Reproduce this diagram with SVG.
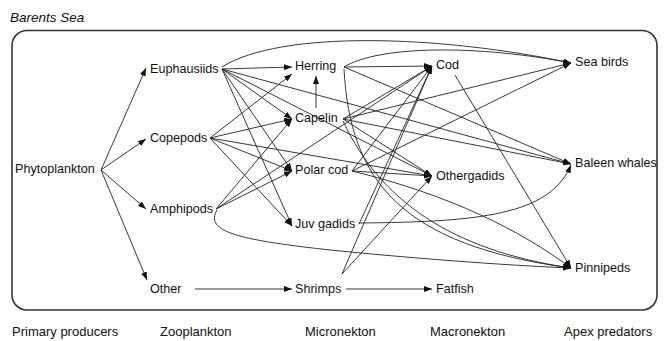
<svg xmlns="http://www.w3.org/2000/svg" width="665" height="341" viewBox="0 0 665 341">
<style>
text{font-family:"Liberation Sans",Arial,Helvetica,sans-serif;font-size:12.6px;fill:#111}
.t{font-size:13.5px;font-style:italic}
.ax{font-size:13px}
#edges path,#edges line{fill:none;stroke:#222;stroke-width:0.9;marker-end:url(#ah)}
</style>
<defs>
<marker id="ah" markerUnits="userSpaceOnUse" markerWidth="9" markerHeight="7" refX="8" refY="3" orient="auto">
<path d="M0,0 L8,3 L0,6 z" fill="#111"/>
</marker>
</defs>
<text class="t" x="10" y="22">Barents Sea</text>
<rect x="12" y="30.5" width="645" height="279.5" rx="15" fill="none" stroke="#333" stroke-width="1.6"/>
<g id="axis">
<text class="ax" x="12" y="336">Primary producers</text>
<text class="ax" x="160" y="336">Zooplankton</text>
<text class="ax" x="305" y="336">Micronekton</text>
<text class="ax" x="430" y="336">Macronekton</text>
<text class="ax" x="564" y="336">Apex predators</text>
</g>
<g id="edges">
<line x1="101" y1="170" x2="146" y2="68"/>
<line x1="101" y1="170" x2="146" y2="139"/>
<line x1="101" y1="170" x2="146" y2="209"/>
<line x1="101" y1="170" x2="147" y2="280"/>
<line x1="222" y1="69" x2="292" y2="67"/>
<line x1="222" y1="69" x2="292" y2="119"/>
<line x1="222" y1="69" x2="292" y2="171"/>
<line x1="222" y1="69" x2="292" y2="226"/>
<line x1="222" y1="69" x2="432" y2="176"/>
<line x1="222" y1="69" x2="571" y2="164"/>
<path d="M222,67 C280,30 440,35 571,63"/>
<line x1="210" y1="138" x2="292" y2="74"/>
<line x1="210" y1="138" x2="292" y2="119"/>
<line x1="210" y1="138" x2="292" y2="171"/>
<line x1="210" y1="138" x2="292" y2="226"/>
<line x1="210" y1="138" x2="432" y2="176"/>
<line x1="216" y1="209" x2="292" y2="119"/>
<line x1="216" y1="209" x2="292" y2="171"/>
<line x1="216" y1="209" x2="432" y2="66"/>
<path d="M217,210 C204,232 240,240 330,250 C430,260 520,266 571,268"/>
<line x1="316" y1="108" x2="316" y2="76"/>
<line x1="344" y1="67" x2="432" y2="66"/>
<path d="M344,67 C380,45 480,45 571,63"/>
<line x1="344" y1="67" x2="571" y2="164"/>
<path d="M344,69 C350,180 400,245 571,268"/>
<line x1="343" y1="119" x2="432" y2="66"/>
<line x1="343" y1="119" x2="571" y2="63"/>
<line x1="343" y1="119" x2="571" y2="164"/>
<line x1="343" y1="119" x2="432" y2="176"/>
<path d="M343,121 C380,200 450,250 571,268"/>
<line x1="352" y1="171" x2="432" y2="66"/>
<line x1="352" y1="171" x2="571" y2="63"/>
<line x1="352" y1="171" x2="432" y2="176"/>
<path d="M352,171 C450,195 520,230 571,268"/>
<line x1="359" y1="224" x2="432" y2="66"/>
<path d="M359,223 C480,222 550,215 571,165"/>
<line x1="342" y1="274" x2="432" y2="66"/>
<line x1="342" y1="274" x2="432" y2="176"/>
<line x1="195" y1="289" x2="292" y2="289"/>
<line x1="346" y1="289" x2="432" y2="289"/>
<line x1="455" y1="75" x2="571" y2="268"/>
</g>
<g id="n-phytoplankton"><text x="15" y="173">Phytoplankton</text></g>
<g id="n-euphausiids"><text x="150" y="73">Euphausiids</text></g>
<g id="n-copepods"><text x="150" y="142">Copepods</text></g>
<g id="n-amphipods"><text x="150" y="213">Amphipods</text></g>
<g id="n-other"><text x="150" y="293">Other</text></g>
<g id="n-herring"><text x="295" y="70">Herring</text></g>
<g id="n-capelin"><text x="295" y="122">Capelin</text></g>
<g id="n-polarcod"><text x="295" y="174">Polar cod</text></g>
<g id="n-juvgadids"><text x="295" y="228">Juv gadids</text></g>
<g id="n-shrimps"><text x="295" y="293">Shrimps</text></g>
<g id="n-cod"><text x="436" y="69">Cod</text></g>
<g id="n-othergadids"><text x="436" y="180">Othergadids</text></g>
<g id="n-fatfish"><text x="436" y="293">Fatfish</text></g>
<g id="n-seabirds"><text x="575" y="66">Sea birds</text></g>
<g id="n-baleenwhales"><text x="575" y="167">Baleen whales</text></g>
<g id="n-pinnipeds"><text x="575" y="272">Pinnipeds</text></g>
</svg>
